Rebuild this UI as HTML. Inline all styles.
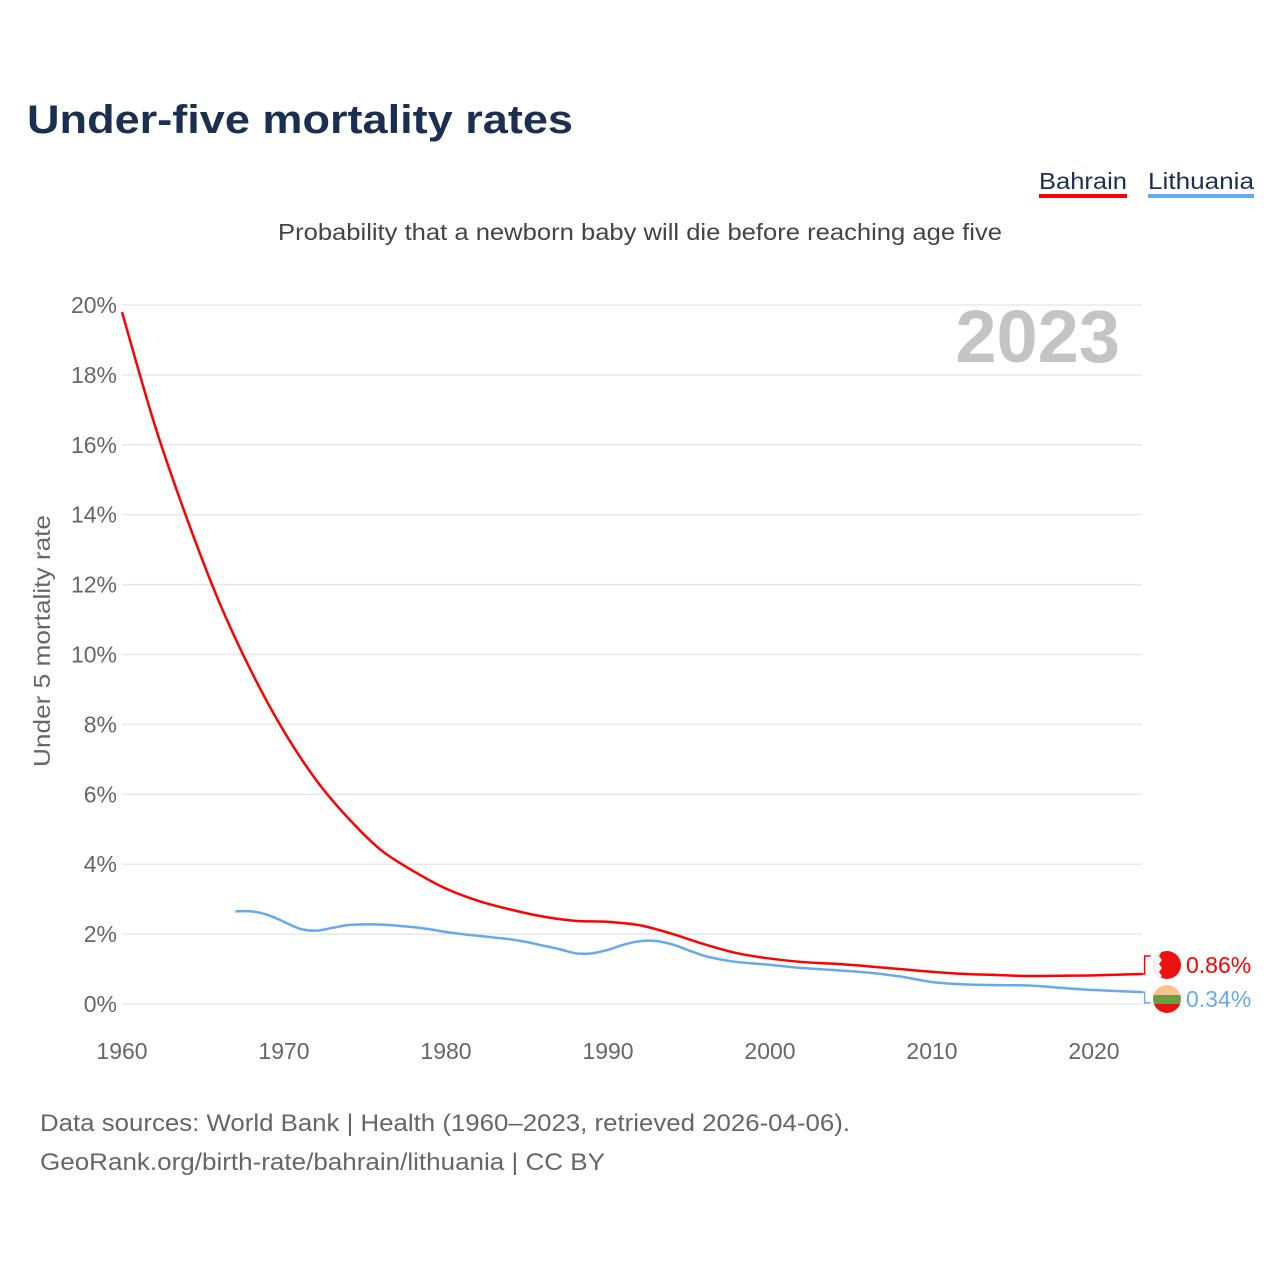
<!DOCTYPE html>
<html><head><meta charset="utf-8"><style>
html,body{margin:0;padding:0;background:#fff;}
svg{display:block;font-family:"Liberation Sans",sans-serif;}
</style></head><body>
<svg id="chart" width="1280" height="1280" viewBox="0 0 1280 1280">
<text x="27" y="133" font-size="40" font-weight="bold" fill="#1b3050" textLength="546" lengthAdjust="spacingAndGlyphs">Under-five mortality rates</text>
<g>
<g>
<text x="1039" y="189" font-size="23" fill="#1b3050" textLength="88" lengthAdjust="spacingAndGlyphs">Bahrain</text>
<rect x="1039" y="194" width="88" height="4" fill="#ff0000"/></g>
<g>
<text x="1148" y="189" font-size="23" fill="#1b3050" textLength="106" lengthAdjust="spacingAndGlyphs">Lithuania</text>
<rect x="1148" y="194" width="106" height="4" fill="#66aaee"/></g>
</g>
<text x="640" y="240" font-size="23" fill="#444" text-anchor="middle" textLength="724" lengthAdjust="spacingAndGlyphs">Probability that a newborn baby will die before reaching age five</text>
<text x="1120" y="362" font-size="74" font-weight="bold" fill="#c4c4c4" text-anchor="end">2023</text>
<text transform="translate(50,641) rotate(-90)" font-size="23" fill="#666" text-anchor="middle" textLength="252" lengthAdjust="spacingAndGlyphs">Under 5 mortality rate</text>
<g id="grid"></g><g id="xt"></g><g id="lines"></g><g id="ends"></g>
<text x="40" y="1131" font-size="24" fill="#666" textLength="810" lengthAdjust="spacingAndGlyphs">Data sources: World Bank | Health (1960–2023, retrieved 2026-04-06).</text>
<text x="40" y="1170" font-size="24" fill="#666" textLength="565" lengthAdjust="spacingAndGlyphs">GeoRank.org/birth-rate/bahrain/lithuania | CC BY</text>
</svg>
<script>
const yTicks=[0,2,4,6,8,10,12,14,16,18,20];
const xTicks=[1960,1970,1980,1990,2000,2010,2020];
const bahrainYears=[1960,1962,1964,1966,1968,1970,1972,1974,1976,1978,1980,1982,1984,1986,1988,1990,1992,1994,1996,1998,2000,2002,2004,2006,2008,2010,2012,2014,2016,2018,2020,2023];
const bahrainValues=[19.8,16.6,13.9,11.5,9.5,7.8,6.4,5.3,4.4,3.8,3.3,2.95,2.7,2.5,2.38,2.35,2.25,2.0,1.7,1.45,1.3,1.2,1.15,1.08,1.0,0.92,0.86,0.83,0.8,0.81,0.82,0.86];
const lithuaniaYears=[1967,1968,1969,1970,1971,1972,1973,1974,1975,1976,1977,1978,1979,1980,1981,1982,1983,1984,1985,1986,1987,1988,1989,1990,1991,1992,1993,1994,1995,1996,1997,1998,2000,2002,2004,2006,2008,2010,2012,2014,2016,2018,2020,2023];
const lithuaniaValues=[2.65,2.65,2.55,2.35,2.15,2.1,2.18,2.26,2.28,2.27,2.24,2.2,2.14,2.06,2.0,1.95,1.9,1.85,1.77,1.67,1.57,1.45,1.45,1.55,1.7,1.8,1.8,1.7,1.53,1.37,1.27,1.2,1.12,1.03,0.97,0.9,0.79,0.63,0.56,0.54,0.53,0.46,0.4,0.34];
const NS="http://www.w3.org/2000/svg";
const X=y=>122+(y-1960)*16.2;
const Y=v=>1004-v*34.95;
function mk(t,a,p){const e=document.createElementNS(NS,t);for(const k in a)e.setAttribute(k,a[k]);p.appendChild(e);return e;}
const grid=document.getElementById('grid');
yTicks.forEach(v=>{
 const l=mk('line',{x1:122,x2:1142,y1:Y(v),y2:Y(v),stroke:'#e8e8e8','stroke-width':1.5},grid);
 
 
 const t=mk('text',{x:117,y:Y(v)+8,'font-size':23,fill:'#666','text-anchor':'end'},grid);
 t.textContent=v+'%';
 
 
});
const xt=document.getElementById('xt');
xTicks.forEach(v=>{
 const t=mk('text',{x:X(v),y:1059,'font-size':23,fill:'#666','text-anchor':'middle'},xt);
 t.textContent=v;
 
 
});
function path(xs,vs){
 const p=xs.map((x,i)=>[X(x),Y(vs[i])]);
 let d='M'+p[0][0]+','+p[0][1];
 for(let i=0;i<p.length-1;i++){
  const p0=p[i-1]||p[i],p1=p[i],p2=p[i+1],p3=p[i+2]||p2;
  const c1=[p1[0]+(p2[0]-p0[0])/6,p1[1]+(p2[1]-p0[1])/6];
  const c2=[p2[0]-(p3[0]-p1[0])/6,p2[1]-(p3[1]-p1[1])/6];
  d+=' C'+c1+' '+c2+' '+p2;
 }
 return d;
}
const lines=document.getElementById('lines');
const lb=mk('path',{d:path(bahrainYears,bahrainValues),fill:'none',stroke:'#ff0000','stroke-width':2.5},lines);


const ll=mk('path',{d:path(lithuaniaYears,lithuaniaValues),fill:'none',stroke:'#66aaee','stroke-width':2.5},lines);


const ends=document.getElementById('ends');
const bv=bahrainValues[bahrainValues.length-1], lv=lithuaniaValues[lithuaniaValues.length-1];
const bx=X(2023);
const by=Y(bv), ly=Y(lv);
const byL=965, lyL=999;
mk('polyline',{points:`${bx},${by} ${bx+2},${by} ${bx+2},${byL-9} ${bx+8},${byL-9}`,fill:'none',stroke:'#ff0000','stroke-width':1.5},ends);
mk('polyline',{points:`${bx},${ly} ${bx+2},${ly} ${bx+2},${lyL+4} ${bx+8},${lyL+4}`,fill:'none',stroke:'#66aaee','stroke-width':1.5},ends);
const fb=mk('g',{},ends);


const cb=mk('clipPath',{id:'cb'},fb);mk('circle',{cx:1167,cy:byL,r:14},cb);
const gb=mk('g',{'clip-path':'url(#cb)'},fb);
mk('rect',{x:1153,y:byL-14,width:28,height:28,fill:'#ee1111'},gb);
mk('polygon',{points:`1153,${byL-14} 1162,${byL-14} 1159,${byL-9} 1162,${byL-5} 1159,${byL-1} 1162,${byL+3} 1159,${byL+7} 1162,${byL+11} 1159,${byL+14} 1153,${byL+14}`,fill:'#f4f4f4'},gb);
const fl=mk('g',{},ends);


const cl=mk('clipPath',{id:'cl'},fl);mk('circle',{cx:1167,cy:lyL,r:14},cl);
const gl=mk('g',{'clip-path':'url(#cl)'},fl);
mk('rect',{x:1153,y:lyL-14,width:28,height:10,fill:'#fcc18f'},gl);
mk('rect',{x:1153,y:lyL-4,width:28,height:9,fill:'#6a9e45'},gl);
mk('rect',{x:1153,y:lyL+5,width:28,height:10,fill:'#ee1111'},gl);
const tb=mk('text',{x:1186,y:byL+8,'font-size':23,fill:'#ff0000'},ends);
tb.textContent=bv.toFixed(2)+'%';


const tl=mk('text',{x:1186,y:lyL+8,'font-size':23,fill:'#66aaee'},ends);
tl.textContent=lv.toFixed(2)+'%';


</script>
</body></html>
